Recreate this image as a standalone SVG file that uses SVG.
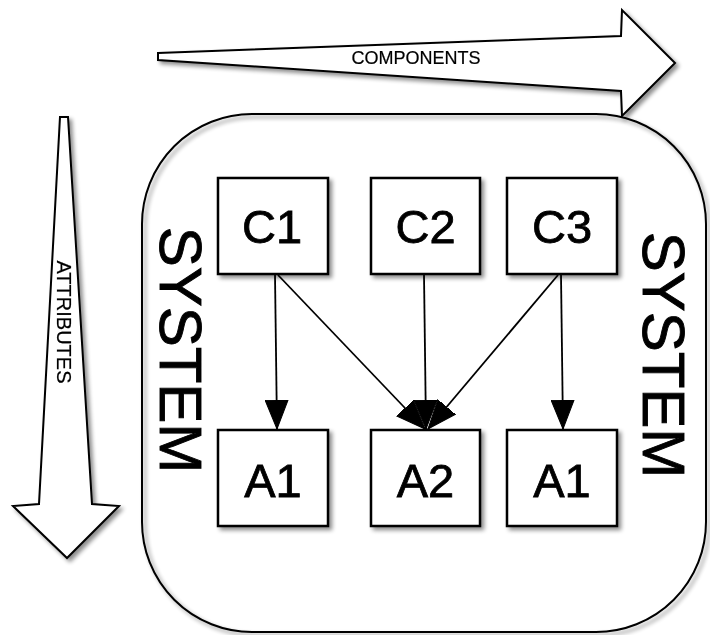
<svg xmlns="http://www.w3.org/2000/svg" width="710" height="635" viewBox="0 0 710 635">
  <defs>
    <filter id="shadow" x="-10%" y="-10%" width="130%" height="130%">
      <feGaussianBlur in="SourceAlpha" stdDeviation="2"/>
      <feOffset dx="3" dy="3" result="blur"/>
      <feComponentTransfer><feFuncA type="linear" slope="0.45"/></feComponentTransfer>
      <feMerge><feMergeNode/><feMergeNode in="SourceGraphic"/></feMerge>
    </filter>
    <marker id="head" markerUnits="userSpaceOnUse" viewBox="0 -12 30 24" markerWidth="30" markerHeight="24" refX="29" refY="0" orient="auto">
      <path d="M0,-11.5 L29,0 L0,11.5 Z" fill="#000" stroke="#000" stroke-width="1"/>
    </marker>
  </defs>
  <style>
    .box { fill: #fff; stroke: #000; stroke-width: 2.5; }
    .outline { fill: #fff; stroke: #000; stroke-width: 2; stroke-linejoin: miter; }
    .label { font-family: "Liberation Sans", Arial, sans-serif; fill: #000; text-anchor: middle; }
    .big { font-size: 47px; stroke: #000; stroke-width: 0.8; }
    .side { font-size: 60px; stroke: #000; stroke-width: 0.9; }
    .small { font-size: 18px; stroke: #000; stroke-width: 0.2; }
    .edge { stroke: #000; stroke-width: 1.8; fill: none; marker-end: url(#head); }
  </style>

  <rect x="0" y="0" width="710" height="635" fill="#fff"/>

  <!-- system container -->
  <g id="system" filter="url(#shadow)">
    <rect x="142" y="114" width="564" height="518" rx="110" ry="110" fill="none" stroke="#000" stroke-width="2"/>
  </g>
  <g id="system-left">
    <text class="label side" transform="translate(160,350) rotate(90)" x="0" y="0">SYSTEM</text>
  </g>
  <g id="system-right">
    <text class="label side" transform="translate(643,355) rotate(90)" x="0" y="0">SYSTEM</text>
  </g>

  <!-- components arrow -->
  <g id="components" filter="url(#shadow)">
    <path class="outline" d="M158,53 L621,36 L622,10 L675,63 L622,116 L621,91 L158,60 Z"/>
    <text class="label small" x="416" y="64">COMPONENTS</text>
  </g>

  <!-- attributes arrow -->
  <g id="attributes" filter="url(#shadow)">
    <path class="outline" d="M60,117 L68,117 L92,504 L119,506 L67,558 L13,506 L39,504 Z"/>
    <text class="label small" style="font-size:20px" transform="translate(57,322) rotate(90)" x="0" y="0">ATTRIBUTES</text>
  </g>

  <!-- component nodes -->
  <g id="c1" filter="url(#shadow)">
    <rect class="box" x="218" y="178" width="110" height="96"/>
    <text class="label big" x="272" y="243">C1</text>
  </g>
  <g id="c2" filter="url(#shadow)">
    <rect class="box" x="371" y="178" width="109" height="96"/>
    <text class="label big" x="425.5" y="243">C2</text>
  </g>
  <g id="c3" filter="url(#shadow)">
    <rect class="box" x="507" y="178" width="110" height="96"/>
    <text class="label big" x="562" y="243">C3</text>
  </g>

  <!-- attribute nodes -->
  <g id="a1-left" filter="url(#shadow)">
    <rect class="box" x="218" y="430" width="110" height="96"/>
    <text class="label big" x="273" y="497">A1</text>
  </g>
  <g id="a2" filter="url(#shadow)">
    <rect class="box" x="371" y="430" width="109" height="96"/>
    <text class="label big" x="425.5" y="497">A2</text>
  </g>
  <g id="a1-right" filter="url(#shadow)">
    <rect class="box" x="507" y="430" width="110" height="96"/>
    <text class="label big" x="562" y="497">A1</text>
  </g>

  <!-- connectors -->
  <g id="connectors">
    <line class="edge" x1="275" y1="275" x2="277" y2="429"/>
    <line class="edge" x1="278" y1="275" x2="425" y2="429"/>
    <line class="edge" x1="424" y1="275" x2="426" y2="429"/>
    <line class="edge" x1="558" y1="275" x2="428" y2="429"/>
    <line class="edge" x1="561" y1="275" x2="563" y2="429"/>
  </g>
</svg>
